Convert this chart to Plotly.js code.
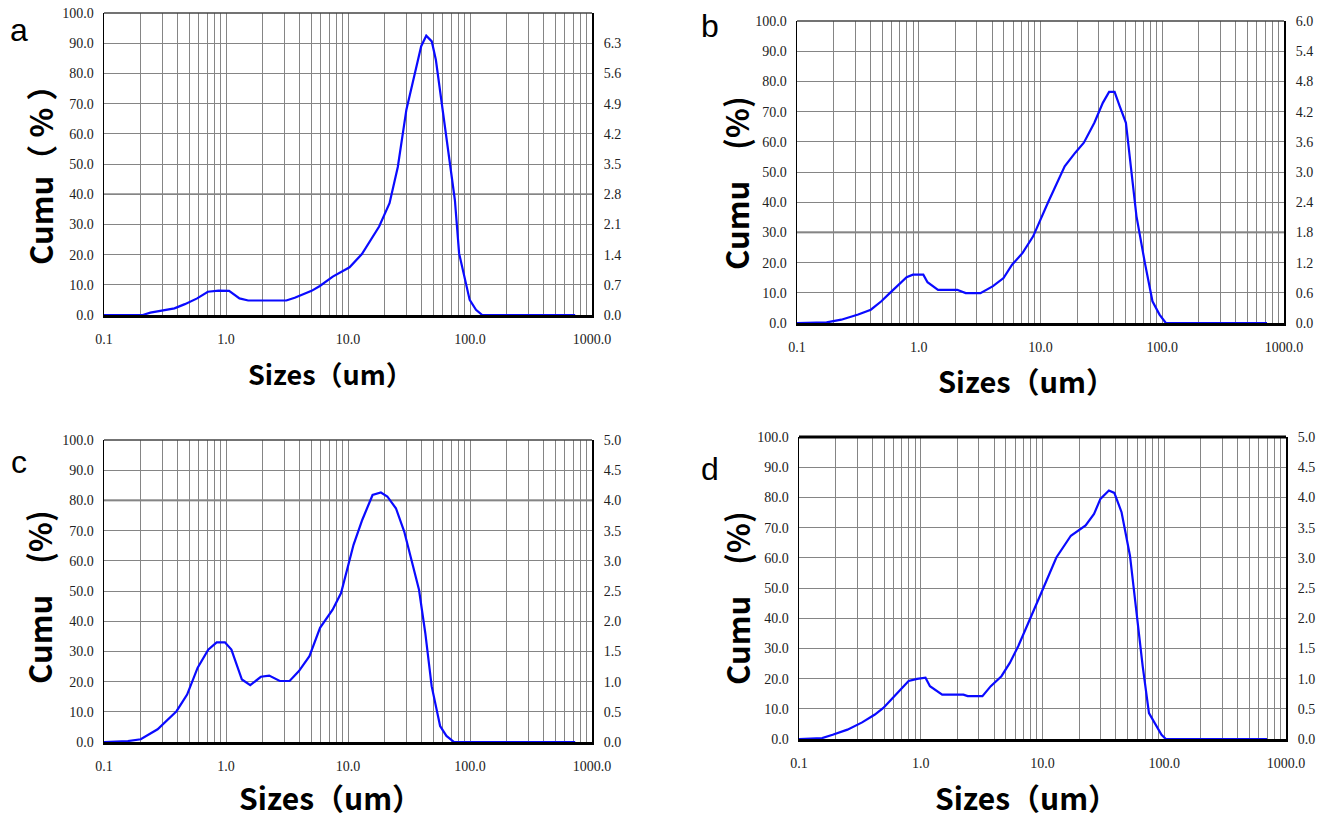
<!DOCTYPE html>
<html>
<head>
<meta charset="utf-8">
<script src="https://cdn.plot.ly/plotly-3.0.1.min.js"></script>
<style>html,body{margin:0;padding:0;background:#fff}#chart{width:1320px;height:820px}</style>
</head>
<body>
<div id="chart"></div>
<script>
// ---------- data ----------
const sizesA = [0.1, 0.208, 0.24, 0.378, 0.46, 0.58, 0.71, 0.87, 1.06, 1.29, 1.52, 3.12, 3.66, 5.03, 5.88, 7.5, 10.3, 13.0, 18.0, 21.9, 25.6, 30.1, 35.3, 39.8, 43.8, 48.6, 52.5, 59.3, 66.8, 75.2, 81.4, 91.8, 99.4, 112, 126, 728];
const freqA  = [0, 0, 0.8, 2.2, 3.6, 5.5, 7.7, 8.1, 8.0, 5.5, 4.8, 4.8, 5.7, 8.0, 9.6, 12.7, 15.8, 20.2, 29.3, 37, 49, 68, 80, 89, 92.5, 90.6, 84.5, 69, 54.7, 38, 20.4, 10.5, 5, 1.7, 0, 0];

const sizesB = [0.1, 0.175, 0.231, 0.318, 0.404, 0.493, 0.578, 0.678, 0.795, 0.896, 1.09, 1.18, 1.44, 2.07, 2.43, 3.21, 4.07, 4.97, 5.84, 7.13, 8.7, 11.5, 15.8, 19.3, 22.7, 27.7, 32.5, 36.6, 40.6, 44.7, 50.3, 54.4, 61.4, 72, 83.1, 95, 107, 725];
const freqB  = [0, 0.2, 1.1, 2.8, 4.4, 7.2, 9.9, 12.7, 15.2, 16, 16, 13.5, 11, 11, 9.9, 9.9, 12.2, 14.9, 19.3, 23.2, 28.7, 39.8, 51.9, 56.4, 59.7, 66.3, 72.9, 76.5, 76.5, 71.8, 66.3, 54.1, 35.4, 19.9, 7.2, 2.8, 0, 0];

const sizesC = [0.1, 0.157, 0.2, 0.275, 0.393, 0.48, 0.586, 0.715, 0.838, 0.98, 1.107, 1.35, 1.58, 1.93, 2.26, 2.76, 3.32, 3.96, 4.83, 5.9, 7.48, 8.77, 11.1, 13.1, 15.9, 18.6, 21.0, 24.7, 28.9, 32.6, 38.2, 43.0, 48.5, 56.9, 64.1, 74, 728];
const freqC  = [0, 0.3, 0.9, 4.2, 10.2, 15.7, 24.6, 30.6, 33, 33, 30.6, 20.7, 18.8, 21.6, 22, 20.2, 20.2, 23.5, 28.4, 37.8, 43.8, 49.3, 65.3, 73.6, 81.8, 82.6, 81.3, 77.4, 69.7, 61.5, 50.4, 36.1, 18.5, 5.3, 2, 0, 0];

const sizesD = [0.1, 0.155, 0.189, 0.25, 0.33, 0.42, 0.493, 0.652, 0.795, 0.933, 1.094, 1.19, 1.5, 2.24, 2.43, 3.21, 3.76, 4.6, 5.39, 6.33, 8.04, 9.8, 13.0, 17.1, 22.6, 26.5, 29.9, 35.1, 38.9, 44.6, 52.3, 59.0, 66.5, 74.9, 84.4, 95, 103, 698];
const freqD  = [0, 0.3, 1.4, 3.1, 5.5, 8.1, 10.3, 15.3, 19.2, 19.9, 20.3, 17.5, 14.7, 14.7, 14.2, 14.2, 17.5, 20.8, 25.2, 30.8, 40.2, 48.5, 60.1, 67.3, 70.7, 74.5, 79.5, 82.3, 81.5, 75.1, 60.7, 41.9, 24.1, 8.6, 4.8, 1.4, 0, 0];

// tick labels
const xDecadeLabels = ["0.1", "1.0", "10.0", "100.0", "1000.0"];
const rightLabelsA = ["0.0", "0.7", "1.4", "2.1", "2.8", "3.5", "4.2", "4.9", "5.6", "6.3"];
const rightLabelsB = ["0.0", "0.6", "1.2", "1.8", "2.4", "3.0", "3.6", "4.2", "4.8", "5.4", "6.0"];
const rightLabelsC = ["0.0", "0.5", "1.0", "1.5", "2.0", "2.5", "3.0", "3.5", "4.0", "4.5", "5.0"];
const rightLabelsD = ["0.0", "0.5", "1.0", "1.5", "2.0", "2.5", "3.0", "3.5", "4.0", "4.5", "5.0"];
const rightMax = [7.0, 6.0, 5.0, 5.0];
const panelLetters = ["a", "b", "c", "d"];
const yTitles = ["Cumu（ % ）", "Cumu　(%)", "Cumu　(%)", "Cumu　(%)"];
const xTitle = "Sizes（um）";

// ---------- build ----------
const xTickVals = [], xTickText = [];
for (let e = -1; e <= 2; e++) {
  for (let m = 1; m <= 9; m++) {
    xTickVals.push(m * Math.pow(10, e));
    xTickText.push(m === 1 ? xDecadeLabels[e + 1] : "");
  }
}
xTickVals.push(1000); xTickText.push(xDecadeLabels[4]);

const tickFont = {family: "Liberation Serif", size: 14, color: "#222"};
const blue = "#0a0aff";

const series = [[sizesA, freqA], [sizesB, freqB], [sizesC, freqC], [sizesD, freqD]];
const data = [];
series.forEach(([xs, ys], i) => {
  const sfx = i === 0 ? "" : String(i + 1);
  data.push({type: "scatter", mode: "lines", x: xs, y: ys, xaxis: "x" + sfx, yaxis: "y" + sfx,
    line: {color: blue, width: 2.2}, hoverinfo: "skip", showlegend: false});
  // same curve expressed in the right-axis units (invisible, carries the right axis)
  data.push({type: "scatter", mode: "lines", x: xs, y: ys.map(v => v * rightMax[i] / 100),
    xaxis: "x" + sfx, yaxis: "y" + (i + 5),
    line: {color: "rgba(0,0,0,0)", width: 0}, hoverinfo: "skip", showlegend: false});
});

const W = 1320, H = 820;
const px = [[104, 592, 13, 315], [797, 1284, 21, 323], [104, 592, 440, 742], [799, 1286, 437, 739]];
const rightLabels = [rightLabelsA, rightLabelsB, rightLabelsC, rightLabelsD];

const layout = {
  width: W, height: H,
  margin: {l: 0, r: 0, t: 0, b: 0},
  paper_bgcolor: "#fff", plot_bgcolor: "#fff",
  showlegend: false,
  shapes: [], annotations: []
};

const darkGrid = [40, 30, 80, null];
const yTitlePos = [[40, 168], [736, 183], [38, 597], [736, 598]];
const xTitlePos = [[330, 374], [1026, 380], [330, 797], [1026, 797]];
const xTitleSize = [27, 29, 30, 30];
const letterPos = [[19, 30], [710, 26], [19, 462], [710, 469]];

for (let i = 0; i < 4; i++) {
  const [x0, x1, y0, y1] = px[i];
  const sfx = i === 0 ? "" : String(i + 1);
  const xd = [x0 / W, x1 / W];
  const yd = [1 - y1 / H, 1 - y0 / H];
  layout["xaxis" + sfx] = {
    type: "log", domain: xd, range: [-1, 3], anchor: "y" + sfx,
    tickmode: "array", tickvals: xTickVals, ticktext: xTickText,
    showgrid: true, gridcolor: "#858585", gridwidth: 1,
    showline: true, linecolor: "#000", linewidth: 3, mirror: false,
    ticks: "", ticklabelstandoff: 9, tickfont: tickFont,
    zeroline: false, layer: "below traces", fixedrange: true
  };
  layout["yaxis" + sfx] = {
    domain: yd, range: [0, 100], anchor: "x" + sfx,
    dtick: 10, tick0: 0, tickformat: ".1f",
    showgrid: true, gridcolor: "#858585", gridwidth: 1,
    showline: true, linecolor: "#000", linewidth: 1.5, mirror: false,
    ticks: "", ticklabelstandoff: 6, tickfont: tickFont,
    zeroline: false, layer: "below traces", fixedrange: true
  };
  const rIdx = i + 5;
  const step = rightMax[i] / 10;
  const rv = rightLabels[i].map((_, k) => k * step);
  layout["yaxis" + rIdx] = {
    overlaying: "y" + sfx, anchor: "x" + sfx, side: "right",
    range: [0, rightMax[i]], tickmode: "array", tickvals: rv, ticktext: rightLabels[i],
    showgrid: false, zeroline: false,
    showline: true, linecolor: "#000", linewidth: 2,
    ticks: "", ticklabelstandoff: 7, tickfont: tickFont, fixedrange: true
  };
  layout.shapes.push({type: "line", xref: "x" + sfx + " domain", yref: "y" + sfx + " domain",
    x0: 0, x1: 1, y0: 1, y1: 1, line: {color: i === 3 ? "#000" : "#444", width: i === 3 ? 3 : 1.5}, layer: "above"});
  if (darkGrid[i] !== null) {
    layout.shapes.push({type: "line", xref: "x" + sfx + " domain", yref: "y" + sfx,
      x0: 0, x1: 1, y0: darkGrid[i], y1: darkGrid[i], line: {color: "#555", width: 1.6}, layer: "below"});
  }
  layout.annotations.push({
    text: yTitles[i], textangle: -90, showarrow: false,
    xref: "paper", yref: "paper", x: yTitlePos[i][0] / W, y: 1 - yTitlePos[i][1] / H,
    xanchor: "center", yanchor: "middle",
    font: {family: "Noto Sans CJK SC", size: 31, color: "#000", weight: "bold"}
  });
  layout.annotations.push({
    text: xTitle, showarrow: false,
    xref: "paper", yref: "paper", x: xTitlePos[i][0] / W, y: 1 - xTitlePos[i][1] / H,
    xanchor: "center", yanchor: "middle",
    font: {family: "Noto Sans CJK SC", size: xTitleSize[i], color: "#000", weight: "bold"}
  });
  layout.annotations.push({
    text: panelLetters[i], showarrow: false,
    xref: "paper", yref: "paper", x: letterPos[i][0] / W, y: 1 - letterPos[i][1] / H,
    xanchor: "center", yanchor: "middle",
    font: {family: "Liberation Sans", size: 32, color: "#000"}
  });
}

Plotly.newPlot("chart", data, layout, {displayModeBar: false, staticPlot: true});
</script>
</body>
</html>
